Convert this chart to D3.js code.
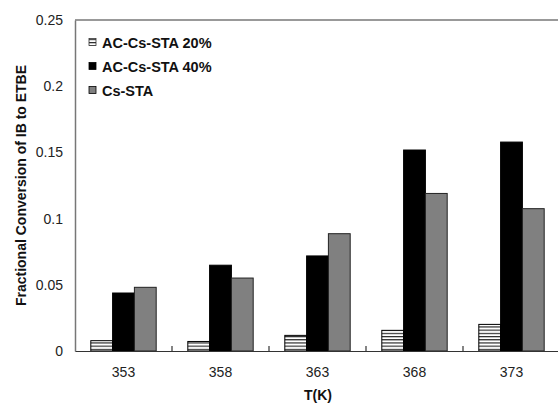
<!DOCTYPE html>
<html><head><meta charset="utf-8">
<script src="https://cdn.jsdelivr.net/npm/d3@7"></script>
<style>body{margin:0;background:#fff}svg{display:block}</style>
</head><body>
<script>
const categories = ["353","358","363","368","373"];
const seriesNames = ["AC-Cs-STA 20%","AC-Cs-STA 40%","Cs-STA"];
const ac20 = [0.0078,0.0072,0.0118,0.0156,0.0201];
const ac40 = [0.0438,0.0648,0.0718,0.1518,0.1578];
const csSTA = [0.0481,0.0551,0.0886,0.1190,0.1075];
const yTicks = [0,0.05,0.1,0.15,0.2,0.25];
const yTickLabels = ["0","0.05","0.1","0.15","0.2","0.25"];

const W=558,H=408;
const m={l:75,t:20,r:-2,b:57};
const FONT="Liberation Sans, Arial, sans-serif";
const svg=d3.select("body").append("svg").attr("width",W).attr("height",H);
const defs=svg.append("defs");
const pat=defs.append("pattern").attr("id","hatch").attr("patternUnits","userSpaceOnUse")
  .attr("width",8).attr("height",3.2);
pat.append("rect").attr("width",8).attr("height",3.2).attr("fill","#fff");
pat.append("line").attr("x1",0).attr("x2",8).attr("y1",0.6).attr("y2",0.6).attr("stroke","#000").attr("stroke-width",1);

const x=d3.scaleBand().domain(categories).range([m.l,W-m.r]).paddingInner(0).paddingOuter(0);
const y=d3.scaleLinear().domain([0,0.25]).range([H-m.b,m.t]);
const xs=d3.scaleBand().domain(seriesNames).range([0,x.bandwidth()]).paddingInner(0).paddingOuter(0.725);
const fills=["url(#hatch)","#000","#808080"];
const data=[ac20,ac40,csSTA];

// frame
svg.append("line").attr("x1",m.l).attr("x2",W).attr("y1",y(0.25)).attr("y2",y(0.25)).attr("stroke","#777").attr("stroke-width",1.5);

// bars
seriesNames.forEach((s,si)=>{
  svg.append("g").selectAll("rect").data(categories).join("rect")
    .attr("x",c=>x(c)+xs(s)).attr("width",xs.bandwidth())
    .attr("y",(c,i)=>y(data[si][i])).attr("height",(c,i)=>y(0)-y(data[si][i]))
    .attr("fill",fills[si]).attr("stroke",si===2?"#222":"#000").attr("stroke-width",1);
});

// y axis
const ya=d3.axisLeft(y).tickValues(yTicks).tickFormat((d,i)=>yTickLabels[i]).tickSize(0).tickPadding(12);
const gy=svg.append("g").attr("transform",`translate(${m.l},0)`).call(ya);
gy.select(".domain").attr("stroke","#777").attr("stroke-width",1.5);
gy.selectAll("text").attr("font-family",FONT).attr("font-size",14).attr("fill","#222");

// x axis
const xa=d3.axisBottom(x).tickSize(0).tickPadding(16);
const gx=svg.append("g").attr("transform",`translate(0,${y(0)})`).call(xa);
gx.select(".domain").attr("stroke","#333").attr("stroke-width",1.2);
gx.selectAll("text").attr("font-family",FONT).attr("font-size",14).attr("fill","#222");
gx.selectAll(".sep").data(categories.slice(1)).join("line").attr("class","sep")
  .attr("x1",c=>x(c)).attr("x2",c=>x(c)).attr("y1",0).attr("y2",-5).attr("stroke","#333").attr("stroke-width",1.2);

// titles
svg.append("text").attr("x",318).attr("y",400).attr("text-anchor","middle")
  .attr("font-family",FONT).attr("font-size",14).attr("font-weight","bold").attr("fill","#111").text("T(K)");
svg.append("text").attr("transform",`translate(26,${(y(0)+y(0.25))/2}) rotate(-90)`).attr("text-anchor","middle")
  .attr("font-family",FONT).attr("font-size",14).attr("font-weight","bold").attr("fill","#111")
  .text("Fractional Conversion of IB to ETBE");

// legend
const lg=svg.append("g").attr("transform","translate(89,42)");
seriesNames.forEach((s,i)=>{
  const g=lg.append("g").attr("transform",`translate(0,${i*24})`);
  g.append("rect").attr("x",0).attr("y",-3.5).attr("width",7).attr("height",7).attr("fill",fills[i]).attr("stroke",i===0?"#333":"#000").attr("stroke-width",0.8);
  g.append("text").attr("x",13).attr("y",5.5).attr("font-family",FONT).attr("font-size",14.5).attr("font-weight","bold").attr("fill","#111").text(s);
});
</script>
</body></html>
